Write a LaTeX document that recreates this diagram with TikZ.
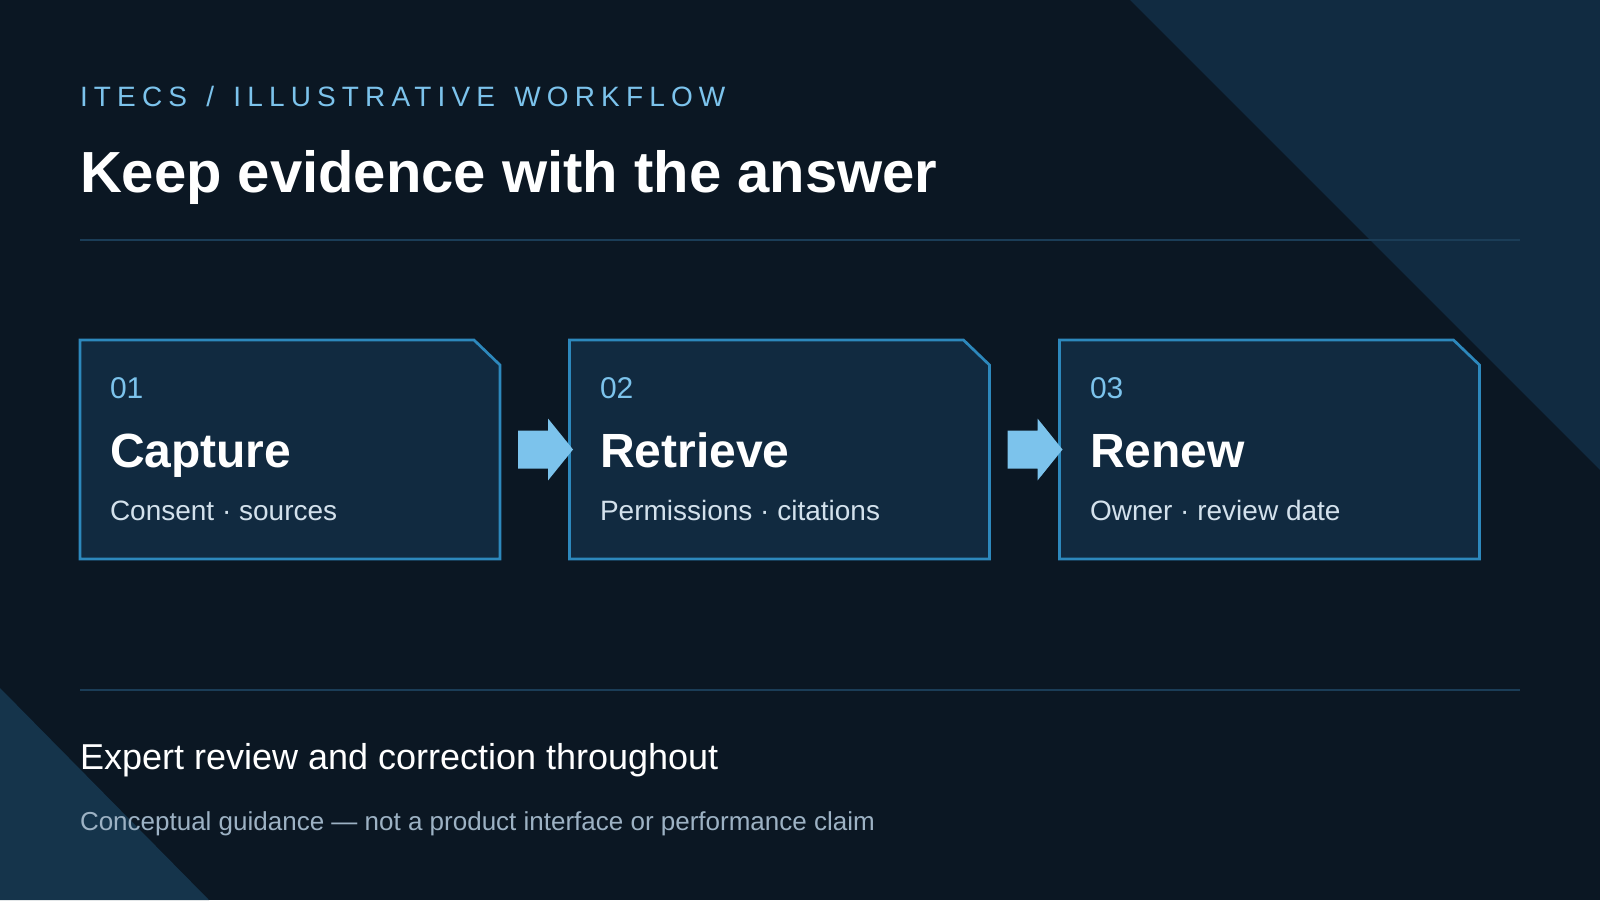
\documentclass[tikz,border=0pt]{standalone}
\usepackage{fontspec}
\setmainfont{Liberation Sans}
\newfontfamily\spacedfont[LetterSpace=22,WordSpace=1.38]{Liberation Sans}
\definecolor{bg}{HTML}{0B1723}
\definecolor{triA}{HTML}{112B41}
\definecolor{triB}{HTML}{15344B}
\definecolor{rulec}{HTML}{1B3D57}
\definecolor{boxfill}{HTML}{112A40}
\definecolor{boxline}{HTML}{2D88BC}
\definecolor{accent}{HTML}{7CC3EC}
\definecolor{subtext}{HTML}{D3E1EC}
\definecolor{foot}{HTML}{9DB2C4}
\begin{document}
\begin{tikzpicture}[x=1pt,y=-1pt,
  txt/.style={anchor=base west,inner sep=0pt,outer sep=0pt},
  header/.style={txt,text=accent,font=\spacedfont\fontsize{28}{34}\selectfont},
  maintitle/.style={txt,text=white,font=\bfseries\fontsize{58}{70}\selectfont},
  stepnum/.style={txt,text=accent,font=\fontsize{30}{36}\selectfont},
  steptitle/.style={txt,text=white,font=\bfseries\fontsize{48}{58}\selectfont},
  stepsub/.style={txt,text=subtext,font=\fontsize{28}{34}\selectfont},
  bigfoot/.style={txt,text=white,font=\fontsize{36}{42}\selectfont},
  smallfoot/.style={txt,text=foot,font=\fontsize{26}{31}\selectfont},
  holder/.style={minimum width=420pt,minimum height=219pt,inner sep=0pt,outer sep=0pt},
  card/.style={fill=boxfill,draw=boxline,line width=2.7pt,line join=miter},
  flowarrow/.style={fill=accent}
]
\useasboundingbox (0,0) rectangle (1600,900);
\fill[bg] (0,0) rectangle (1600,900);
\fill[triA] (1130,0) -- (1600,0) -- (1600,470) -- cycle;
\fill[triB] (0,688) -- (0,900) -- (209,900) -- cycle;
\draw[rulec,line width=1.3pt] (80,240) -- (1520,240);
\draw[rulec,line width=1.3pt] (80,690) -- (1520,690);

\node[header] (hdr) at (80,106) {ITECS / ILLUSTRATIVE WORKFLOW};
\node[maintitle] (ttl) at (80,192) {Keep evidence with the answer};

\node[holder] (b1) at (290,449.5) {};
\node[holder] (b2) at (779.5,449.5) {};
\node[holder] (b3) at (1269.5,449.5) {};
\foreach \b in {b1,b2,b3}{
  \draw[card] (\b.north west) -- ([xshift=-26pt]\b.north east) -- ([yshift=-25pt]\b.north east) -- (\b.south east) -- (\b.south west) -- cycle;
}
\foreach \b in {b1,b2}{
  \fill[flowarrow,shift={(\b.east)}] (18,-19) -- (48,-19) -- (48,-31) -- (73,0) -- (48,31) -- (48,19) -- (18,19) -- cycle;
}

\node[stepnum] (n1) at (110,398) {01};
\node[steptitle] (t1) at (110,467) {Capture};
\node[stepsub] (s1) at (110,520) {Consent · sources};

\node[stepnum] (n2) at (600,398) {02};
\node[steptitle] (t2) at (600,467) {Retrieve};
\node[stepsub] (s2) at (600,520) {Permissions · citations};

\node[stepnum] (n3) at (1090,398) {03};
\node[steptitle] (t3) at (1090,467) {Renew};
\node[stepsub] (s3) at (1090,520) {Owner · review date};

\node[bigfoot] (f1) at (80,769) {Expert review and correction throughout};
\node[smallfoot] (f2) at (80,830) {Conceptual guidance — not a product interface or performance claim};
\end{tikzpicture}
\end{document}
